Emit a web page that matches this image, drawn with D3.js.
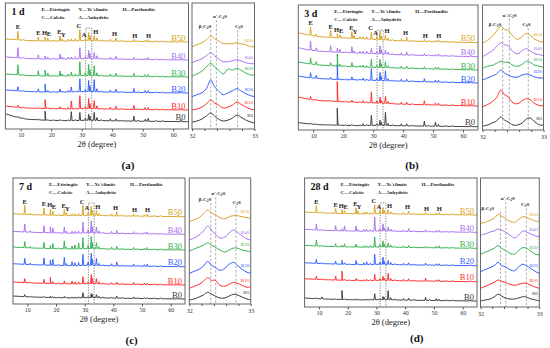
<!DOCTYPE html>
<html><head><meta charset="utf-8">
<script src="https://cdn.jsdelivr.net/npm/d3@7"></script>
<style>
body{margin:0;background:#fff}
svg{display:block}
text{font-family:"Liberation Serif","Times New Roman",serif}
</style>
</head><body>
<svg id="chart" width="550" height="348"></svg>
<script>
// ---------------- DATA ----------------
const seriesNames = ["B0","B10","B20","B30","B40","B50"];
const seriesColors = ["#3a3a3a","#ff2b2b","#2f5eff","#33b24f","#a970f0","#d8a323"];
const panelNames = ["1 d","3 d","7 d","28 d"];
const captions = ["(a)","(b)","(c)","(d)"];
const xTicks = [10,20,30,40,50,60];
const zoomTicks = [32,32.2,32.4,32.6,32.8,33];
const legendRow1 = ["E\u2014Ettringite","Y\u2014Ye'elimite","H\u2014Portlandite"];
const legendRow2 = ["C\u2014Calcite","A\u2014Anhydrite"];

// peak positions (2theta, degree)
const peaks = [9.1,11.0,15.8,18.0,18.9,20.8,22.9,23.6,25.6,26.6,27.9,29.4,31.2,32.3,32.7,34.1,35.0,36.4,39.4,41.2,43.1,47.1,48.5,50.8,51.8,54.3,56.5,62.6];
// phase labels: text, x position, index of peak it sits over
const phaseText = ["E","E","H","E","E","Y","C","A","H","H","H","H"];
const phaseX    = [9.1,15.8,17.8,19.3,22.7,24.0,29.1,30.8,34.6,40.8,47.4,51.9];
const phasePeak = [0,2,3,4,6,7,11,12,15,19,21,24];

// background (amorphous hump / drift) sample points
const bgX = [5,8,12,18,26,32,38,50,65];

// ---- 1 d ----
const offsetsA = [7.3,19,36,52,69,87];
const bgA = [
 [8,5,2.5,1.5,1,1.5,1,0.5,0],
 [4,3,2,1.5,1,1.5,1,0.5,0],
 [3,2.5,1.5,1,1,1.5,1,0.5,0],
 [3,2.5,1.5,1,1,1.5,1,0.5,0],
 [3,2.5,1.5,1,1,1.5,1,0.5,0],
 [3,2.5,1.5,1,1,1.5,1,0.5,0]];
const heightsA = [
 [1,0.5,1,9,0.5,0.5,1,0.5,1,9,1,8,2,6,4,8,3,1,2,2,1,5,1,2,3,1,1,2],
 [2,0.5,1,9,1,0.5,2,1,1.5,8,1,13,2,10,5,8,3,1,2,3,1,4,1,2,2,1,1,1.5],
 [4,1,3,8,1.5,0.5,3,1,1.5,5,1,13,2,11,6,12,3,1,2,3,1,4,1,2,2,1,1,1.5],
 [10,1,5,6,3,1,5,2,2,4,2,14,3,11,6,10,3,1,2,3,1,3,1,2,2,1,1,1.5],
 [10,1,4,3,2,1,5,2,2,2,2,11,2,8,5,6,3,1,2,3,1,2,1,1.5,2,1,1,1.5],
 [8.5,1,4,4,3,1,5,2,2,2,2,11,2,8,5,5,3,1,2,3,1,2,1,1.5,2,1,1,1.5]];
// ---- 3 d ----
const offsetsB = [3.3,24,47,60,73.3,87.3];
const bgB = [
 [4,3,2,1.5,1,1.5,1,0.5,0],
 [9,7,5.5,4.5,3.5,3,2,1,0],
 [7,5.5,4.5,3.5,3,2.5,2,1,0],
 [8,6.5,5,4,3,2.5,2,1,0],
 [9,7,5.5,4.5,3.5,3,2,1,0],
 [10,8,6,5,4,3,2,1,0]];
const heightsB = [
 [1,0.5,0.5,17,0.5,0.5,1,0.5,1,2,1,10,1.5,5,3,13,2,1,2,2,1,5,1,4,2,1,1,1.5],
 [3,1,1,20,1,0.5,2,0.5,1,2,1,11,2,6,3,7,2,1,2,2,1,4,1,2,2,1,1,1.5],
 [5,3,2,15,1,0.5,3,1,1,2,1,12,2,8,4,10,2,1,2,2,1,3,1,2,2,1,1,1.5],
 [6,3,3,12,2,1,4,1,1.5,2,1.5,8,2,8,4,6,2,1,2,2,1,2,1,2,2,1,1,1.5],
 [9,3,6,4,3,1,6,2,2,2,2,5,2,8,4,4,2,1,2,3,1,2,1,1.5,2,1,1,1.5],
 [8,2,7,4,3,1,7,3,2,2,2,7,3,9,4,5,2,1,2,4,1,2,1,1.5,2,1,1,1.5]];
// ---- 7 d ----
const offsetsC = [5,19,37.3,54,69.7,87.3];
const bgC = [
 [3,2.5,2,1.5,1,1.5,1,0.5,0],
 [3,2.5,2,1.5,1,1.5,1,0.5,0],
 [3,2.5,2,1.5,1,1.5,1,0.5,0],
 [3,2.5,2,1.5,1,1.5,1,0.5,0],
 [3,2.5,2,1.5,1,1.5,1,0.5,0],
 [3,2.5,2,1.5,1,1.5,1,0.5,0]];
const heightsC = [
 [2,0.5,1,1.5,1,0.5,1.5,0.5,1,1,1,5,1,4,3,3,1.5,1,1,2,1,1.5,1,1,1,1,1,1],
 [4,1,4,6,2,1,3,1,3,2,2,7,2,9,5,5,2,1,1.5,2,1,2,1,1.5,1.5,1,1,1.5],
 [6,1.5,7,5,6,1,8,2,4,3,3,11,3,12,6,7,2,1,2,4,1,2,1,1.5,2,1,1,1.5],
 [6,1.5,6,3,5,1,8,2,3,4,6,11,3,12,6,6,2,1,2,3,1,2,1,1.5,2,1,1,1.5],
 [8,1.5,7,6,5,1,6,2,2,2,2,11,3,12,6,6,2,1,2,3,1,2,1,1.5,2,1,1,1.5],
 [9,1.5,7,6,4,1,6,3,2,2,2,10,3,9,5,5,2,1,2,4,1,2,1,1.5,2,1,1,1.5]];
// ---- 28 d ----
const offsetsD = [6,25.3,41.3,58.7,74.7,92];
const bgD = [
 [3,2.5,2,1.5,1,1.5,1,0.5,0],
 [3,2.5,2,1.5,1,1.5,1,0.5,0],
 [3,2.5,2,1.5,1,1.5,1,0.5,0],
 [3,2.5,2,1.5,1,1.5,1,0.5,0],
 [3,2.5,2,1.5,1,1.5,1,0.5,0],
 [3,2.5,2,1.5,1,1.5,1,0.5,0]];
const heightsD = [
 [1,2,0.5,9,0.5,0.5,1,0.5,1,1,1,6,1,3,2,9,2,1,1.5,2,1,3,1,2,1.5,1,1,1],
 [3,1,4,9,1,0.5,2,1,1,1.5,1,6,1.5,4,2,7,2,1,1.5,2,1,3,1,1.5,1.5,1,1,1],
 [4,1,3,4,1.5,0.5,4,1,2,3,1.5,10,2,7,3,4,2,1,1.5,2,1,2,1,1.5,1.5,1,1,1],
 [6,1,3,1.5,3,0.5,3,1,1.5,1.5,1.5,10,2,6,3,4,2,1,1.5,2,1,1.5,1,1.5,2,1,1,1],
 [6,1,5,2,5,0.5,5,1.5,2,2,1.5,14,2,7,3,4,2,1,1.5,3,1,2,1,1.5,1.5,1,1,1],
 [7,1,5,4,3,0.5,6,3,2,2,1.5,9,3,6,3,4,2,1,1.5,3,1,2,1,1.5,2,1,1,1]];

// ---- zoomed 32-33 degree window ----
const zoomX = [32.0,32.08,32.16,32.23,32.3,32.36,32.42,32.5,32.58,32.65,32.72,32.78,32.86,32.94,33.0];
const zoomPhaseText = ["\u03b2-C","\u03b1'-C","C"];
const zoomPhaseSub = ["2","2","3"];
const zoomPhaseA = [32.30,32.39,32.73];
const zoomPhaseB = [32.33,32.44,32.75];
const zoomPhaseC = [32.35,32.43,32.76];
const zoomPhaseD = [32.34,32.43,32.78];
const zoomOffsetsA = [7,19,32.3,53,66.3,82.3];
const zoomA = [
 [0,1,3,6,9,6,3,1,2,4,7,5,2,0,-1],
 [0,1,3,6,10,7,5,2,3,5,8,6,3,1,0],
 [0,2,4,8,16.7,10,6,2,4,6,8,6,3,1,0],
 [0,2,5,9,12.7,9,6,2,7,6,7.7,6,3,1,1],
 [0,2,4,7,10,7,4,1,1,2,3,2,0,-1,-1],
 [0,2,4,7,10.7,8,6,3,3,3,4,3,2,0,0]];
const zoomOffsetsB = [4,23.3,50,61.7,73.3,86.7];
const zoomB = [
 [0,1,3,5,9,6,4,1,1,3,7,8,4,1,1],
 [0,2,5,9,16.7,12,10,4,3,6,8,7,3,1,1],
 [0,2,4,6,10,7,5,3,3,5,6,5,3,2,2],
 [0,2,3,5,7,6,6,3,2,4,7,6,3,2,1],
 [0,3,6,10,14,12,11,5,3,6,8,6,3,2,1],
 [0,3,7,12,17,14,13,7,4,7,10,8,4,2,1]];
const zoomOffsetsC = [4,15.7,30.7,53,64,82.3];
const zoomC = [
 [0,1,3,5,7.7,6,4,2,2,4,5.7,5,3,1,0],
 [0,2,4,7,10.6,8,8,3,2,4,6,5,3,1,1.5],
 [0,2,4,7,12,8,6,3,5,9,11,8,4,1,0],
 [0,2,4,6,8,6,4,1,-1,1,3,3,1,0,-1],
 [0,2,5,9,14,10,6,2,3,7,10,8,4,1,0],
 [0,2,4,8,11.7,9,7,4,3,5,6,6,5,4,3.4]];
const zoomOffsetsD = [6,18.7,35.3,52.7,72,83.7];
const zoomD = [
 [0,1,2,4,6.7,5,3,2,2,3,4.3,4,2,1,0],
 [0,2,4,6,8.3,7,6,4,3,4,5,5,3,1,0],
 [0,2,4,6,9.4,6,5,2,1,5,7.4,6,3,0,-1.6],
 [0,2,4,6,8.7,6,4,1,0,4,6.7,6,3,0,-0.7],
 [0,1,3,4,6,5,3,0,-3,0,4,3,1,-1,-1.7],
 [0,1,3,5,9,7,5,2,1,4,6.7,6,4,2,2.3]];

// ---------------- LAYOUT ----------------
const panels = [
 {name:panelNames[0],cap:captions[0],off:offsetsA,bg:bgA,h:heightsA,zo:zoomOffsetsA,z:zoomA,zp:zoomPhaseA,
  main:[5.4,188.5,3,129],zoom:[192,254.5,3,129],capPos:[128,168.5],zl:[[13,25],[28,15],[47,25]]},
 {name:panelNames[1],cap:captions[1],off:offsetsB,bg:bgB,h:heightsB,zo:zoomOffsetsB,z:zoomB,zp:zoomPhaseB,
  main:[298.3,478,5,130],zoom:[482.5,543.5,5,130],capPos:[412,169],zl:[[12.5,21],[27,11.5],[44,21]]},
 {name:panelNames[2],cap:captions[2],off:offsetsC,bg:bgC,h:heightsC,zo:zoomOffsetsC,z:zoomC,zp:zoomPhaseC,
  main:[13,185,178,304],zoom:[189.3,250.7,178,304],capPos:[131.7,343.5],zl:[[15.7,23],[29,17],[47.4,25.5]]},
 {name:panelNames[3],cap:captions[3],off:offsetsD,bg:bgD,h:heightsD,zo:zoomOffsetsD,z:zoomD,zp:zoomPhaseD,
  main:[304.6,477,178,307],zoom:[480.5,539.3,178,307],capPos:[416.7,341.5],zl:[[7.3,31.5],[27.3,22],[44.7,28]]}
];

const svg = d3.select("#chart");
const W = 0.25; // half width of a peak, degrees

function traceData(bgRow, hRow){
  const bg = d3.scaleLinear().domain(bgX).range(bgRow);
  const pts = bgX.map(x=>({x:x,y:bg(x)}));
  peaks.forEach((p,i)=>{
    pts.push({x:p-W,y:bg(p-W)},{x:p,y:bg(p)+hRow[i]},{x:p+W,y:bg(p+W)});
  });
  pts.sort((a,b)=>a.x-b.x);
  return {pts, bg};
}

panels.forEach(P=>{
  const [mx0,mx1,my0,my1] = P.main;
  const g = svg.append("g");
  const x = d3.scaleLinear().domain([5,65]).range([mx0,mx1]);
  const y = d3.scaleLinear().domain([0,my1-my0]).range([my1,my0]);

  // dotted box around 31-34 deg
  g.append("path")
    .attr("d",`M${x(31.3)},${my1}V${my0+25}H${x(33.3)}V${my1}`)
    .attr("fill","none").attr("stroke","#555").attr("stroke-width",0.7)
    .attr("stroke-dasharray","1.3,1.3");

  // traces
  const line = d3.line().x(d=>x(d.x));
  seriesNames.forEach((s,i)=>{
    const {pts,bg} = traceData(P.bg[i],P.h[i]);
    const off = P.off[i];
    g.append("path").datum(pts)
      .attr("d", line.y(d=>y(off+d.y)))
      .attr("fill","none").attr("stroke",seriesColors[i]).attr("stroke-width",0.95)
      .attr("stroke-linejoin","round");
    g.append("text").attr("x",mx1-3).attr("y",y(off+bg(65))-1.5)
      .attr("text-anchor","end").attr("font-size",8.5).attr("fill",seriesColors[i]).text(s);
    if(i===5){
      phaseText.forEach((t,k)=>{
        const pk = peaks[phasePeak[k]];
        const top = y(off+bg(pk)+P.h[i][phasePeak[k]]);
        g.append("text").attr("x",x(phaseX[k])).attr("y",top-1.8)
          .attr("text-anchor","middle").attr("font-size",6.5).attr("font-weight","bold")
          .attr("fill","#222").text(t);
      });
    }
  });

  // frame
  g.append("rect").attr("x",mx0).attr("y",my0).attr("width",mx1-mx0).attr("height",my1-my0)
    .attr("fill","none").attr("stroke","#666").attr("stroke-width",1);
  // axis
  const ax = g.append("g").attr("transform",`translate(0,${my1})`)
    .call(d3.axisBottom(x).tickValues(xTicks).tickSize(2.5).tickPadding(1.5));
  ax.select(".domain").remove();
  ax.selectAll("line").attr("stroke","#555");
  ax.selectAll("text").attr("font-size",6).attr("font-family","Liberation Serif").attr("fill","#333");
  g.append("text").attr("x",(mx0+mx1)/2).attr("y",my1+18).attr("text-anchor","middle")
    .attr("font-size",8.5).attr("fill","#222").text("2\u03b8 (degree)");
  // panel age label
  g.append("text").attr("x",mx0+6).attr("y",my0+12).attr("font-size",10).attr("font-weight","bold")
    .attr("fill","#111").text(P.name);
  // legend
  const lx = [36,73,117];
  legendRow1.forEach((t,k)=>g.append("text").attr("x",mx0+lx[k]).attr("y",my0+7.8)
    .attr("font-size",5).attr("font-weight","bold").attr("fill","#222").text(t));
  legendRow2.forEach((t,k)=>g.append("text").attr("x",mx0+lx[k]).attr("y",my0+15.8)
    .attr("font-size",5).attr("font-weight","bold").attr("fill","#222").text(t));

  // ---- zoom panel ----
  const [zx0,zx1,zy0,zy1] = P.zoom;
  const xz = d3.scaleLinear().domain([32,33]).range([zx0,zx1]);
  const yz = d3.scaleLinear().domain([0,zy1-zy0]).range([zy1,zy0]);
  // dashed phase lines + labels
  P.zp.forEach((v,k)=>{
    const [lxp,lyp] = P.zl[k];
    g.append("line").attr("x1",xz(v)).attr("x2",xz(v)).attr("y1",zy0+lyp+2).attr("y2",zy1)
      .attr("stroke","#9a9a9a").attr("stroke-width",0.8).attr("stroke-dasharray","2.5,1.8");
    const tx = g.append("text").attr("x",zx0+lxp).attr("y",zy0+lyp)
      .attr("text-anchor","middle").attr("font-size",5).attr("font-weight","bold").attr("fill","#222");
    tx.append("tspan").text(zoomPhaseText[k]);
    tx.append("tspan").attr("font-size",3.5).attr("dy",1).text(zoomPhaseSub[k]);
    tx.append("tspan").attr("dy",-1).text("S");
  });
  const zline = d3.line().curve(d3.curveCatmullRom.alpha(0.5));
  seriesNames.forEach((s,i)=>{
    const off = P.zo[i];
    const data = zoomX.map((v,k)=>[xz(v), yz(off+P.z[i][k])]);
    g.append("path").attr("d",zline(data)).attr("fill","none")
      .attr("stroke",seriesColors[i]).attr("stroke-width",1).attr("stroke-linejoin","round");
    g.append("text").attr("x",zx1-1.5).attr("y",yz(off+P.z[i][13])-5)
      .attr("text-anchor","end").attr("font-size",5).attr("fill",seriesColors[i]).text(s);
  });
  g.append("rect").attr("x",zx0).attr("y",zy0).attr("width",zx1-zx0).attr("height",zy1-zy0)
    .attr("fill","none").attr("stroke","#666").attr("stroke-width",1);
  const az = g.append("g").attr("transform",`translate(0,${zy1})`)
    .call(d3.axisBottom(xz).tickValues(zoomTicks).tickSize(2)
      .tickFormat(d=>(d===32||d===33)?d3.format("d")(d):""));
  az.select(".domain").remove();
  az.selectAll("line").attr("stroke","#555");
  az.selectAll("text").attr("font-size",6).attr("font-family","Liberation Serif").attr("fill","#333");

  // caption
  svg.append("text").attr("x",P.capPos[0]).attr("y",P.capPos[1]).attr("text-anchor","middle")
    .attr("font-size",11).attr("font-weight","bold").attr("fill","#111").text(P.cap);
});
</script>
</body></html>
